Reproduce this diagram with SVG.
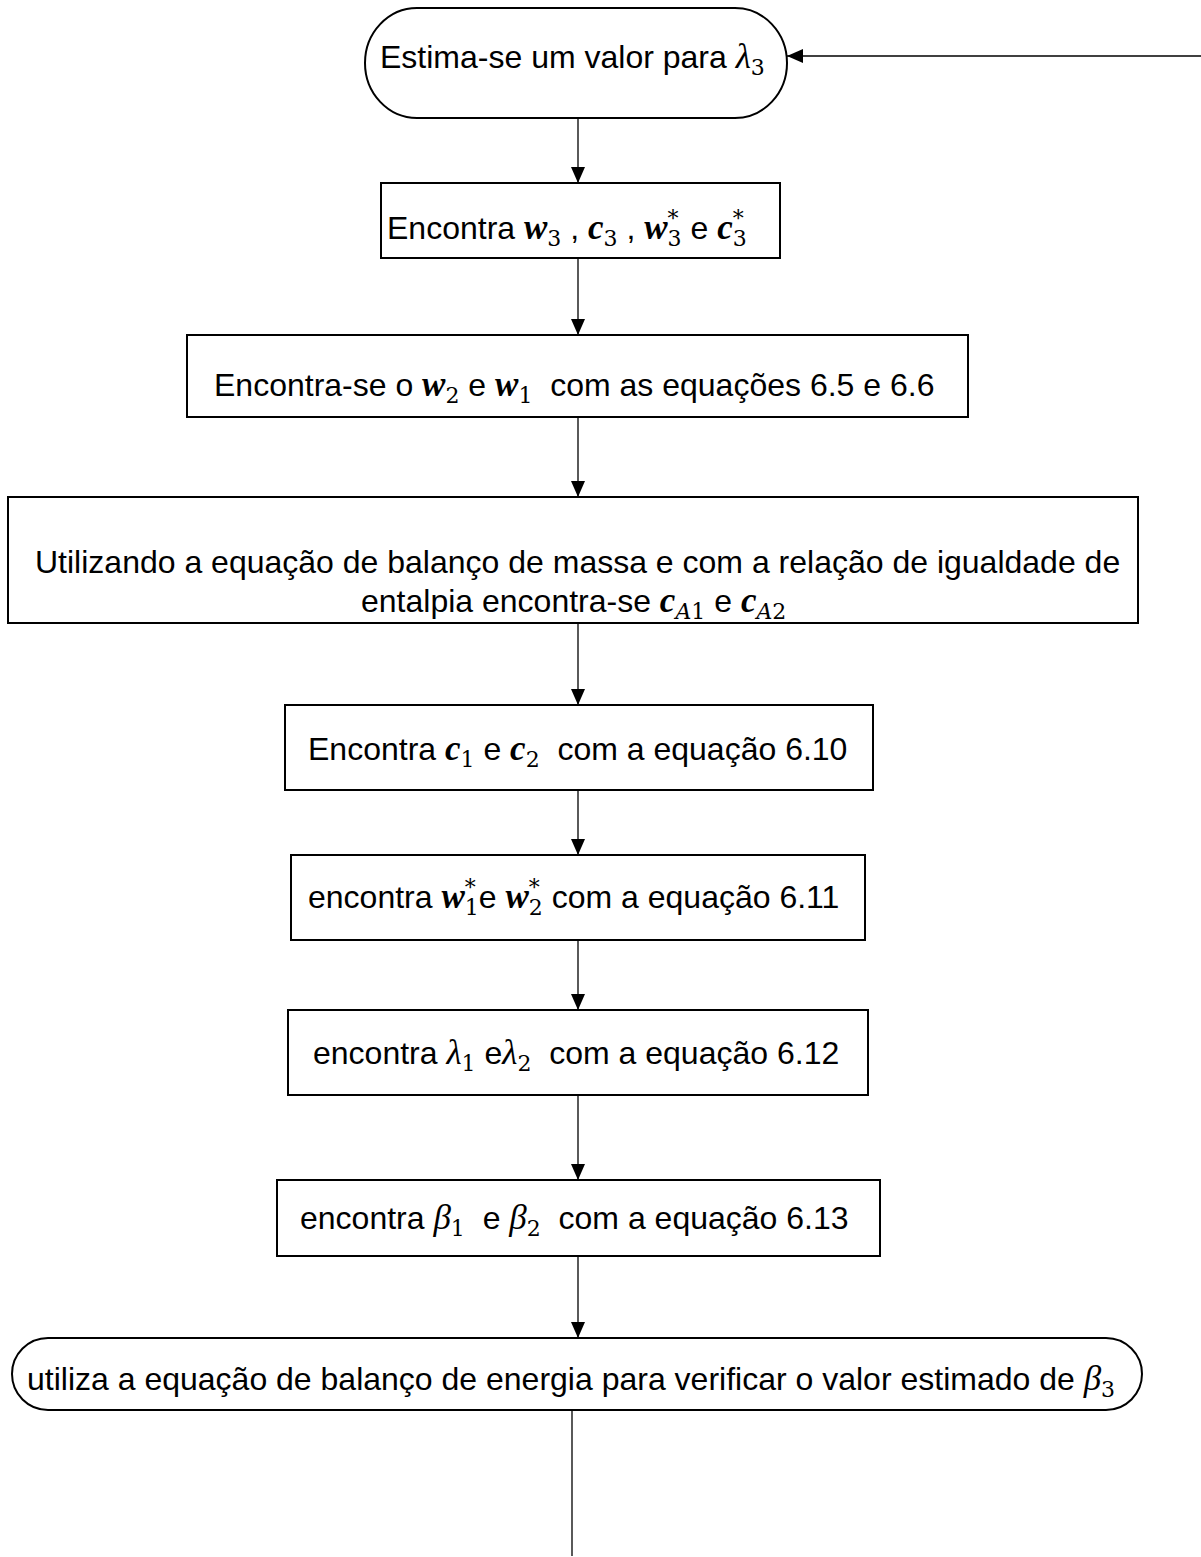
<svg xmlns="http://www.w3.org/2000/svg" width="1201" height="1557" viewBox="0 0 1201 1557">
<style>
.box{fill:#fff;stroke:#000;stroke-width:2}
.t{font-family:"Liberation Sans",Arial,sans-serif;font-size:32px;fill:#000}
.m{font-family:"Liberation Serif","DejaVu Serif",serif;font-style:italic;font-weight:bold;font-size:35px}
.g{font-family:"Liberation Serif","DejaVu Serif",serif;font-style:italic;font-size:35px}
.s{font-family:"DejaVu Serif","Liberation Serif",serif;font-size:22px;font-weight:normal;font-style:normal}
.conn line{stroke:#000;stroke-width:1.3}
</style>
<defs>
<marker id="ah" viewBox="0 0 16 14" refX="16" refY="7" markerWidth="16" markerHeight="14" markerUnits="userSpaceOnUse" orient="auto">
<path d="M0,0 L16,7 L0,14 z" fill="#000"/>
</marker>
</defs>
<rect width="1201" height="1557" fill="#fff"/>
<g id="connectors" class="conn">
<line x1="1201" y1="56" x2="787" y2="56" marker-end="url(#ah)"/>
<line x1="578" y1="118" x2="578" y2="183" marker-end="url(#ah)"/>
<line x1="578" y1="258" x2="578" y2="335" marker-end="url(#ah)"/>
<line x1="578" y1="417" x2="578" y2="497" marker-end="url(#ah)"/>
<line x1="578" y1="623" x2="578" y2="705" marker-end="url(#ah)"/>
<line x1="578" y1="790" x2="578" y2="855" marker-end="url(#ah)"/>
<line x1="578" y1="940" x2="578" y2="1010" marker-end="url(#ah)"/>
<line x1="578" y1="1095" x2="578" y2="1180" marker-end="url(#ah)"/>
<line x1="578" y1="1256" x2="578" y2="1338" marker-end="url(#ah)"/>
<line x1="572" y1="1410" x2="572" y2="1556"/>
</g>
<g id="n1">
<rect class="box" x="365" y="8" width="422" height="110" rx="52" ry="55"/>
<text class="t" x="380" y="68">Estima-se um valor para <tspan class="g">λ</tspan><tspan class="s" dy="7">3</tspan></text>
</g>
<g id="n2">
<rect class="box" x="381" y="183" width="399" height="75"/>
<text class="t" x="387" y="239">Encontra <tspan class="m">w</tspan><tspan class="s" dy="7">3</tspan><tspan dy="-7"> , </tspan><tspan class="m">c</tspan><tspan class="s" dy="7">3</tspan><tspan dy="-7"> , </tspan><tspan class="m">w</tspan><tspan class="s" dy="-13">*</tspan><tspan class="s" dx="-11" dy="20">3</tspan><tspan dy="-7"> e </tspan><tspan class="m">c</tspan><tspan class="s" dy="-13">*</tspan><tspan class="s" dx="-11" dy="20">3</tspan></text>
</g>
<g id="n3">
<rect class="box" x="187" y="335" width="781" height="82"/>
<text class="t" x="214" y="396">Encontra-se o <tspan class="m">w</tspan><tspan class="s" dy="7">2</tspan><tspan dy="-7"> e </tspan><tspan class="m">w</tspan><tspan class="s" dy="7">1</tspan><tspan dy="-7">&#160; com as equações 6.5 e 6.6</tspan></text>
</g>
<g id="n4">
<rect class="box" x="8" y="497" width="1130" height="126"/>
<text class="t" x="35" y="573">Utilizando a equação de balanço de massa e com a relação de igualdade de</text>
<text class="t" x="361" y="612">entalpia encontra-se <tspan class="m">c</tspan><tspan class="s" dy="7"><tspan font-style="italic">A</tspan>1</tspan><tspan dy="-7"> e </tspan><tspan class="m">c</tspan><tspan class="s" dy="7"><tspan font-style="italic">A</tspan>2</tspan></text>
</g>
<g id="n5">
<rect class="box" x="285" y="705" width="588" height="85"/>
<text class="t" x="308" y="760">Encontra <tspan class="m">c</tspan><tspan class="s" dy="7">1</tspan><tspan dy="-7"> e </tspan><tspan class="m">c</tspan><tspan class="s" dy="7">2</tspan><tspan dy="-7">&#160; com a equação 6.10</tspan></text>
</g>
<g id="n6">
<rect class="box" x="291" y="855" width="574" height="85"/>
<text class="t" x="308" y="908">encontra <tspan class="m">w</tspan><tspan class="s" dy="-13">*</tspan><tspan class="s" dx="-11" dy="20">1</tspan><tspan dy="-7">e </tspan><tspan class="m">w</tspan><tspan class="s" dy="-13">*</tspan><tspan class="s" dx="-11" dy="20">2</tspan><tspan dy="-7"> com a equação 6.11</tspan></text>
</g>
<g id="n7">
<rect class="box" x="288" y="1010" width="580" height="85"/>
<text class="t" x="313" y="1064">encontra <tspan class="g">λ</tspan><tspan class="s" dy="7">1</tspan><tspan dy="-7"> e</tspan><tspan class="g">λ</tspan><tspan class="s" dy="7">2</tspan><tspan dy="-7">&#160; com a equação 6.12</tspan></text>
</g>
<g id="n8">
<rect class="box" x="277" y="1180" width="603" height="76"/>
<text class="t" x="300" y="1229">encontra <tspan class="g">β</tspan><tspan class="s" dy="7">1</tspan><tspan dy="-7">&#160; e </tspan><tspan class="g">β</tspan><tspan class="s" dy="7">2</tspan><tspan dy="-7">&#160; com a equação 6.13</tspan></text>
</g>
<g id="n9">
<rect class="box" x="12" y="1338" width="1130" height="72" rx="36" ry="36"/>
<text class="t" x="27" y="1390">utiliza a equação de balanço de energia para verificar o valor estimado de <tspan class="g">β</tspan><tspan class="s" dy="7">3</tspan></text>
</g>
</svg>
